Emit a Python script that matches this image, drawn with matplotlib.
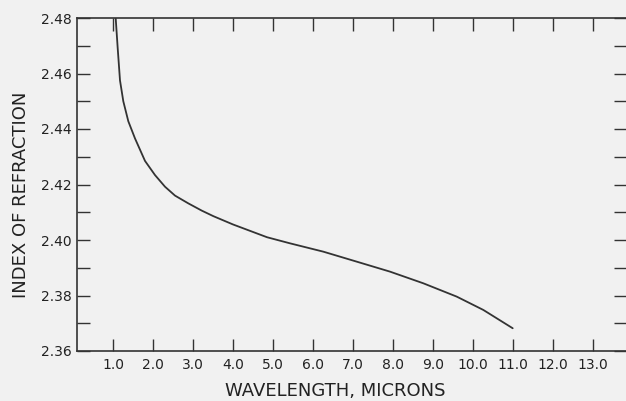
import matplotlib
matplotlib.use("Agg")
import matplotlib.pyplot as plt
from matplotlib.ticker import MultipleLocator, FixedLocator

wavelength = [1.055, 1.0675, 1.1175, 1.175, 1.2575, 1.3825, 1.55, 1.8, 2.05, 2.3,
              2.55, 2.8825, 3.2175, 3.5075, 4.0, 4.85, 5.425, 6.2575, 7.0925, 7.925,
              8.7575, 9.5925, 10.2575, 10.9925]
index_n = [2.4850, 2.4799, 2.4691, 2.4575, 2.4500, 2.4428, 2.4366, 2.4285, 2.4234, 2.4192,
           2.4160, 2.4132, 2.4106, 2.4086, 2.4056, 2.4010, 2.3988, 2.3958, 2.3922, 2.3886,
           2.3844, 2.3796, 2.3748, 2.3682]
x_ticks = [1.0, 2.0, 3.0, 4.0, 5.0, 6.0, 7.0, 8.0, 9.0, 10.0, 11.0, 12.0, 13.0]
x_labels = ["1.0", "2.0", "3.0", "4.0", "5.0", "6.0", "7.0", "8.0", "9.0", "10.0", "11.0", "12.0", "13.0"]
y_ticks = [2.36, 2.38, 2.40, 2.42, 2.44, 2.46, 2.48]
y_labels = ["2.36", "2.38", "2.40", "2.42", "2.44", "2.46", "2.48"]

bg = "#f1f1f1"
ink = "#333333"
fig = plt.figure(figsize=(6.26, 4.01), dpi=100, facecolor=bg)
ax = fig.add_axes([77/626, 1-351/401, 1-77/626, (351-18)/401])
ax.set_facecolor(bg)

ax.plot(wavelength, index_n, color=ink, lw=1.3, clip_on=True,
        solid_joinstyle="round", solid_capstyle="round")

ax.set_xlim(0.1, 13.825)
ax.set_ylim(2.36, 2.48)

ax.xaxis.set_major_locator(FixedLocator(x_ticks))
ax.set_xticklabels(x_labels)
ax.yaxis.set_major_locator(FixedLocator(y_ticks))
ax.set_yticklabels(y_labels)
ax.yaxis.set_minor_locator(MultipleLocator(0.01))

for s in ["left", "bottom", "top"]:
    ax.spines[s].set_color(ink)
    ax.spines[s].set_linewidth(1.2)
ax.spines["right"].set_visible(False)

ax.tick_params(axis="x", which="major", direction="in", length=9, width=1.0, color=ink,
               top=True, bottom=True, labelsize=10, labelcolor="#222222", pad=5)
ax.tick_params(axis="y", which="both", direction="in", length=9, width=1.0, color=ink,
               left=True, right=True, labelsize=10, labelcolor="#222222", pad=4)

ax.set_xlabel("WAVELENGTH, MICRONS", fontsize=13, color="#222222")
ax.set_ylabel("INDEX OF REFRACTION", fontsize=13, color="#222222")
ax.xaxis.set_label_coords(0.47, -0.093)
ax.yaxis.set_label_coords(-0.086, 0.468)

fig.savefig("out.png", dpi=100, facecolor=bg)
